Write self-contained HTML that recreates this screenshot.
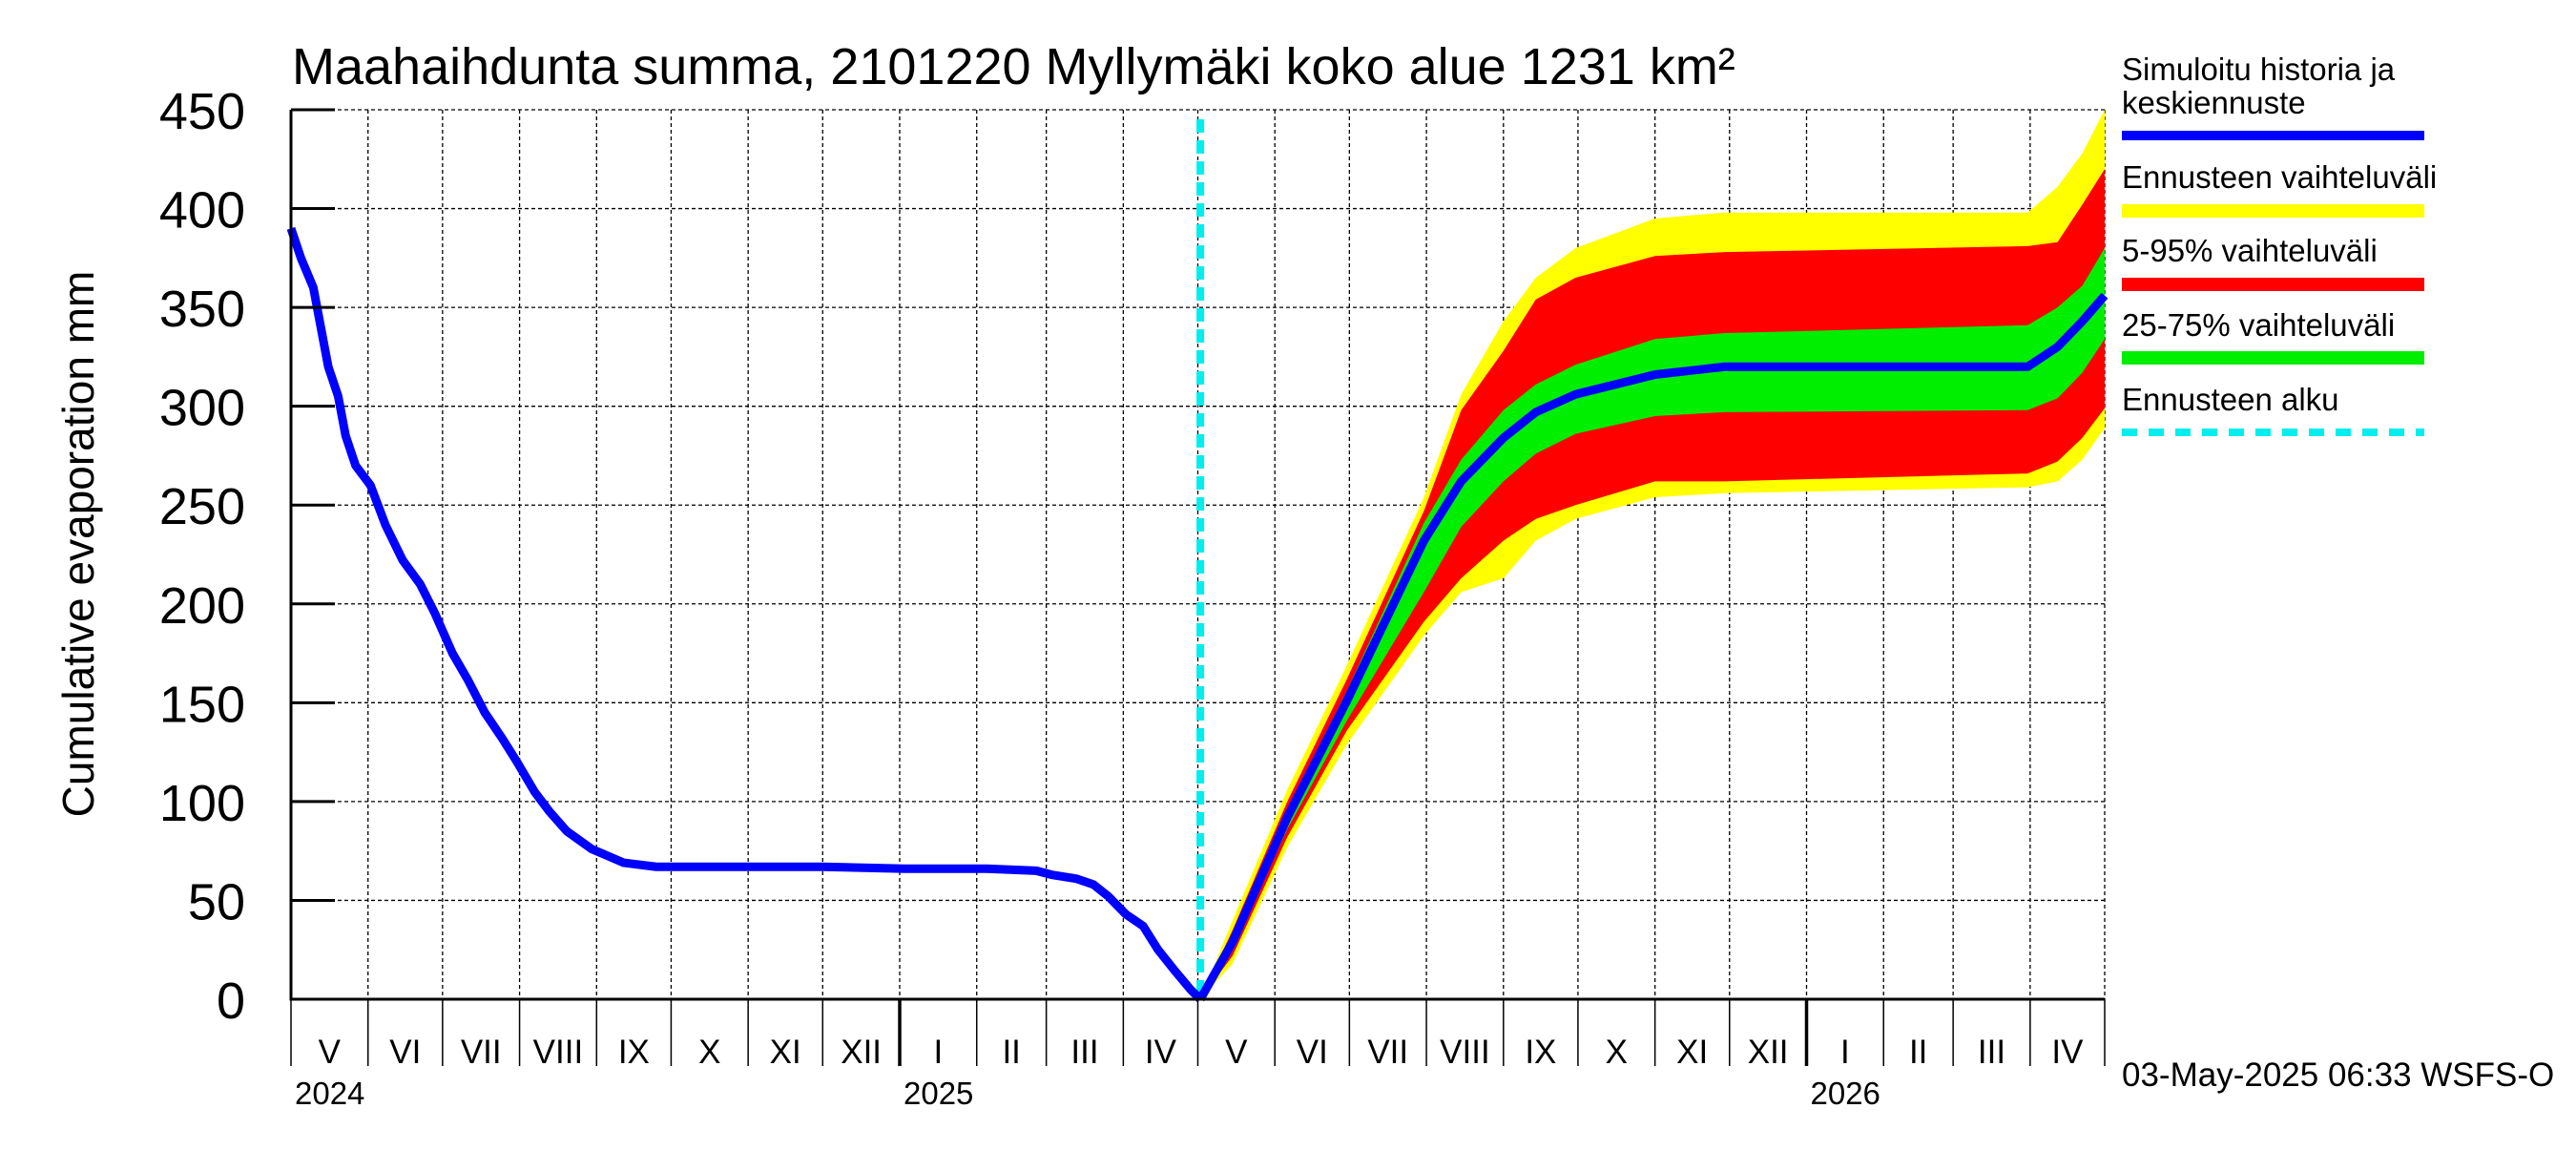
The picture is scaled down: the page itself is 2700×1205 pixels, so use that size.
<!DOCTYPE html>
<html><head><meta charset="utf-8"><style>
body{margin:0;background:#fff;}
svg text{font-family:"Liberation Sans",sans-serif;fill:#000;}
</style></head><body>
<svg id="chart" width="2700" height="1200" viewBox="0 0 2700 1200" xmlns="http://www.w3.org/2000/svg">
<rect width="2700" height="1200" fill="#fff"/>
<text x="306" y="88" font-size="54">Maahaihdunta summa, 2101220 Myllymäki koko alue 1231 km²</text>
<text transform="translate(98,570) rotate(-90)" text-anchor="middle" font-size="46">Cumulative evaporation   mm</text>
<g id="grid"></g>
<g id="bands"></g>
<g id="lines"></g>
<g id="axes"></g>
<g>
<text x="2224" y="84" font-size="33">Simuloitu historia ja</text>
<text x="2224" y="119" font-size="33">keskiennuste</text>
<line x1="2224" y1="142" x2="2541" y2="142" stroke="#0000ff" stroke-width="10"/>
<text x="2224" y="197" font-size="33">Ennusteen vaihteluväli</text>
<line x1="2224" y1="221" x2="2541" y2="221" stroke="#ffff00" stroke-width="14"/>
<text x="2224" y="274" font-size="33">5-95% vaihteluväli</text>
<line x1="2224" y1="298" x2="2541" y2="298" stroke="#ff0000" stroke-width="14"/>
<text x="2224" y="352" font-size="33">25-75% vaihteluväli</text>
<line x1="2224" y1="375" x2="2541" y2="375" stroke="#00ee00" stroke-width="14"/>
<text x="2224" y="430" font-size="33">Ennusteen alku</text>
<line x1="2224" y1="453" x2="2541" y2="453" stroke="#00eeee" stroke-width="8" stroke-dasharray="16,12"/>
</g>
<text x="2224" y="1138" font-size="35">03-May-2025 06:33 WSFS-O</text>
</svg>
<script>
// days since 2024-05-01
const histDays=[0,4,9,12,15,19,22,26,32,38,45,52,58,65,71,78,85,91,98,104,111,121,134,147,181,214,247,280,300,306,316,323,329,336,343,349,356,362,366];
const histVals=[390,375,360,340,320,305,285,270,260,240,222,210,195,175,162,145,132,120,105,95,85,76,69,67,67,67,66,66,65,63,61,58,52,43,37,25,14,5,0];
const fcDays=[366,379,401,425,456,471,488,501,517,549,577,699,711,721,730];
const fcMedian=[0,29,92,151,232,262,284,297,306,316,320,320,330,343,356];
const fcMax=[0,40,106,169,254,306,343,365,380,395,398,398,411,428,450];
const fcMin=[0,18,77,129,184,206,213,232,243,254,256,259,262,273,289];
const fc95=[0,35,100,162,247,298,328,354,365,376,378,381,383,402,420];
const fc5=[0,22,82,136,191,213,232,243,250,262,262,266,272,284,299];
const fc75=[0,32,96,156,241,273,298,311,321,334,337,341,350,361,380];
const fc25=[0,26,86,141,206,239,262,276,286,295,297,298,304,317,334];
const yTicks=[0,50,100,150,200,250,300,350,400,450];
const monthStarts=[0,31,61,92,123,153,184,214,245,276,304,335,365,396,426,457,488,518,549,579,610,641,669,700,730];
const monthLabels=["V","VI","VII","VIII","IX","X","XI","XII","I","II","III","IV","V","VI","VII","VIII","IX","X","XI","XII","I","II","III","IV"];
const yearLabels=[["2024",0],["2025",245],["2026",610]];

const L=305,R=2206,T=115,B=1047,D0=0,D1=730;
const x=d=>L+(d-D0)/(D1-D0)*(R-L);
const y=v=>B-v/450*(B-T);
const NS="http://www.w3.org/2000/svg";
function mk(tag,attrs,parent){const e=document.createElementNS(NS,tag);for(const k in attrs)e.setAttribute(k,attrs[k]);parent.appendChild(e);return e;}
const grid=document.getElementById('grid'),bands=document.getElementById('bands'),lines=document.getElementById('lines'),axes=document.getElementById('axes');

yTicks.forEach(v=>{
  const g=mk('line',{x1:L,x2:R,y1:y(v),y2:y(v),stroke:'#000','stroke-width':1.3,'stroke-dasharray':'4,3'},grid);
  
  
  const t=mk('line',{x1:L,x2:L+46,y1:y(v),y2:y(v),stroke:'#000','stroke-width':3},axes);
  
  
  const tx=mk('text',{x:257,y:y(v)+20,'text-anchor':'end','font-size':54},axes);
  tx.textContent=v;
  
  
});
monthStarts.forEach((d,i)=>{
  if(i>0&&i<monthStarts.length-1){
    const g=mk('line',{x1:x(d),x2:x(d),y1:T,y2:B,stroke:'#000','stroke-width':1.3,'stroke-dasharray':'4,3'},grid);
    
    
  }
  const yr=(d===245||d===610);
  const t=mk('line',{x1:x(d),x2:x(d),y1:B,y2:1117,stroke:'#000','stroke-width':yr?3.5:1.5},axes);
  
  
  if(i<monthLabels.length){
    const tx=mk('text',{x:(x(d)+x(monthStarts[i+1]))/2,y:1114,'text-anchor':'middle','font-size':35},axes);
    tx.textContent=monthLabels[i];
    
    
  }
});
const rg=mk('line',{x1:R,x2:R,y1:T,y2:B,stroke:'#000','stroke-width':1.3,'stroke-dasharray':'4,3'},grid);


yearLabels.forEach(([s,d])=>{
  const tx=mk('text',{x:x(d)+4,y:1157,'font-size':33},axes);
  tx.textContent=s;
  
  
});

function band(up,lo,color,name){
  let pts=fcDays.map((d,i)=>x(d)+','+y(up[i]));
  pts=pts.concat(fcDays.map((d,i)=>x(d)+','+y(lo[i])).reverse());
  const p=mk('polygon',{points:pts.join(' '),fill:color},bands);
  
  
}
band(fcMax,fcMin,'#ffff00','band-full-range');
band(fc95,fc5,'#ff0000','band-5-95');
band(fc75,fc25,'#00ee00','band-25-75');

const fl=mk('line',{x1:x(366),x2:x(366),y1:T+10,y2:B,stroke:'#00eeee','stroke-width':8,'stroke-dasharray':'14,8'},lines);


const hp=mk('polyline',{points:histDays.map((d,i)=>x(d)+','+y(histVals[i])).join(' '),fill:'none',stroke:'#0000ff','stroke-width':9,'stroke-linejoin':'round'},lines);


const mp=mk('polyline',{points:fcDays.map((d,i)=>x(d)+','+y(fcMedian[i])).join(' '),fill:'none',stroke:'#0000ff','stroke-width':9,'stroke-linejoin':'round'},lines);



const ax=mk('path',{d:`M${L},${T} L${L},${B} L${R},${B}`,fill:'none',stroke:'#000','stroke-width':3},axes);


</script>
</body></html>
